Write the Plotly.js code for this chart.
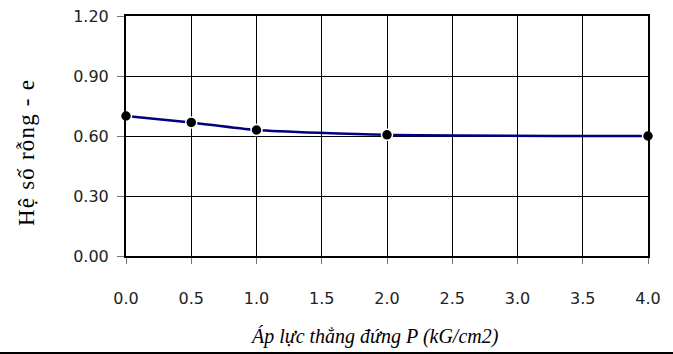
<!DOCTYPE html>
<html><head><meta charset="utf-8">
<script src="https://cdn.plot.ly/plotly-3.0.1.min.js"></script>
<style>html,body{margin:0;padding:0;background:#fff;}#c{width:673px;height:354px;}
.ytitle-ann text{letter-spacing:1.2px;}</style>
</head><body><div id="c"></div>
<script>
const pressure = [0, 0.5, 1, 2, 4];
const voidRatio = [0.70, 0.668, 0.630, 0.606, 0.600];
const xTicks = [0, 0.5, 1, 1.5, 2, 2.5, 3, 3.5, 4];
const yTicks = [0, 0.3, 0.6, 0.9, 1.2];
const xTitle = 'Áp lực thẳng đứng P (kG/cm2)';
const yTitle = 'Hệ số rỗng - e';

const trace = {
  x: pressure, y: voidRatio, type: 'scatter', mode: 'lines+markers',
  line: {color: '#000080', width: 2.5, shape: 'spline', smoothing: 0.6},
  marker: {color: '#000', size: 11, line: {color: '#fff', width: 1.5}},
  cliponaxis: false, hoverinfo: 'none'
};
const layout = {
  width: 673, height: 354,
  margin: {l: 126, r: 25, t: 16, b: 98},
  paper_bgcolor: '#fff', plot_bgcolor: '#fff',
  showlegend: false,
  xaxis: {
    range: [0, 4], tickvals: xTicks, ticktext: xTicks.map(v => v.toFixed(1)),
    showgrid: true, gridcolor: '#000', gridwidth: 1,
    showline: true, linecolor: '#000', linewidth: 2, mirror: true,
    ticks: 'outside', ticklen: 6, tickcolor: '#777', tickwidth: 1,
    ticklabelstandoff: 21,
    zeroline: false,
    tickfont: {family: 'DejaVu Sans', size: 16, color: '#222'}
  },
  yaxis: {
    range: [0, 1.2], tickvals: yTicks, ticktext: yTicks.map(v => v.toFixed(2)),
    showgrid: true, gridcolor: '#000', gridwidth: 1,
    showline: true, linecolor: '#000', linewidth: 2, mirror: true,
    ticks: 'outside', ticklen: 7, tickcolor: '#777', tickwidth: 1,
    ticklabelstandoff: 5,
    zeroline: false,
    tickfont: {family: 'DejaVu Sans', size: 16, color: '#222'}
  },
  annotations: [
    {text: xTitle, xref: 'paper', yref: 'paper', x: 0.476, y: -0.335,
     xanchor: 'center', yanchor: 'middle', showarrow: false,
     font: {family: 'Liberation Serif', size: 20, color: '#000', style: 'italic'}},
    {text: yTitle, xref: 'paper', yref: 'paper', x: -0.19, y: 0.43,
     xanchor: 'center', yanchor: 'middle', showarrow: false, textangle: -90,
     font: {family: 'Liberation Serif', size: 23, color: '#000'}}
  ],
  shapes: [{type: 'line', xref: 'paper', yref: 'paper',
            x0: -0.25, x1: 1.06, y0: -0.404, y1: -0.404,
            line: {color: '#000', width: 2}}]
};
Plotly.newPlot('c', [trace], layout, {staticPlot: true, displayModeBar: false}).then(gd => {
  const anns = gd.querySelectorAll('.annotation');
  if (anns[1]) anns[1].classList.add('ytitle-ann');
});
</script></body></html>
